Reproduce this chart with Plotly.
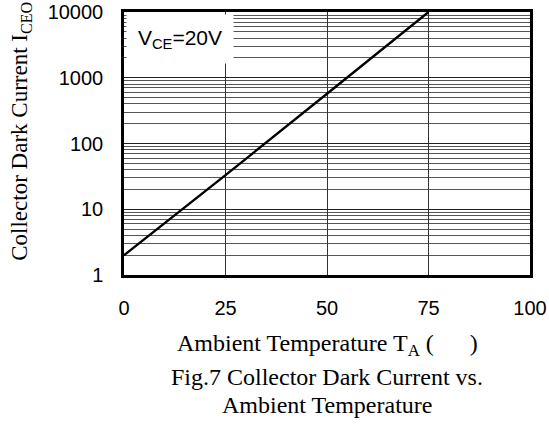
import plotly.graph_objects as go

temps = [0, 25, 50, 75]
current = [2, 33, 570, 10000]
x_ticks = [0, 25, 50, 75, 100]
y_ticks = [1, 10, 100, 1000, 10000]
y_tick_labels = ["1", "10", "100", "1000", "10000"]

fig = go.Figure()
fig.add_trace(go.Scatter(x=temps, y=current, mode="lines",
                         line=dict(color="black", width=2.4), showlegend=False))

fig.update_layout(
    width=549, height=425,
    margin=dict(l=124, r=19, t=12, b=150),
    paper_bgcolor="white", plot_bgcolor="white",
    font=dict(family="Liberation Sans, Arial", size=20, color="black"),
)
fig.update_xaxes(range=[0, 100], tickvals=x_ticks, ticktext=[str(v) for v in x_ticks],
                 showgrid=True, gridcolor="#333", gridwidth=1, automargin=False,
                 showline=True, linecolor="black", linewidth=2.5, mirror=True,
                 ticks="", ticklabelstandoff=13, zeroline=False)
fig.update_yaxes(type="log", range=[0, 4], tickvals=y_ticks, ticktext=y_tick_labels,
                 showgrid=True, gridcolor="#222", gridwidth=1.2, automargin=False,
                 minor=dict(dtick="D1", showgrid=True, gridcolor="#555", gridwidth=1, ticks=""),
                 showline=True, linecolor="black", linewidth=2.5, mirror=True,
                 ticks="", ticklabelstandoff=14, zeroline=False)

times = "Liberation Serif, Times New Roman"
fig.add_annotation(xref="paper", yref="paper", x=0.005, y=0.993, xanchor="left", yanchor="top",
                   text="V<sub>CE</sub>=20V", showarrow=False, bgcolor="white",
                   font=dict(family="Liberation Sans, Arial", size=21),
                   borderpad=11)
fig.add_annotation(xref="paper", yref="paper", x=0.5, y=-0.266, xanchor="center", yanchor="middle",
                   text="Ambient Temperature T<sub>A</sub> (      )", showarrow=False,
                   font=dict(family=times, size=24))
fig.add_annotation(xref="paper", yref="paper", x=0.5, y=-0.388, xanchor="center", yanchor="middle",
                   text="Fig.7 Collector Dark Current vs.", showarrow=False,
                   font=dict(family=times, size=24))
fig.add_annotation(xref="paper", yref="paper", x=0.5, y=-0.494, xanchor="center", yanchor="middle",
                   text="Ambient Temperature", showarrow=False,
                   font=dict(family=times, size=24))
fig.add_annotation(xref="paper", yref="paper", x=-0.254, y=0.548, xanchor="center", yanchor="middle",
                   text="Collector Dark Current I<sub>CEO</sub>", showarrow=False, textangle=-90,
                   font=dict(family=times, size=23))

fig.write_html("out.html", config={"displayModeBar": False},
               post_script="document.body.style.margin='0px';")
